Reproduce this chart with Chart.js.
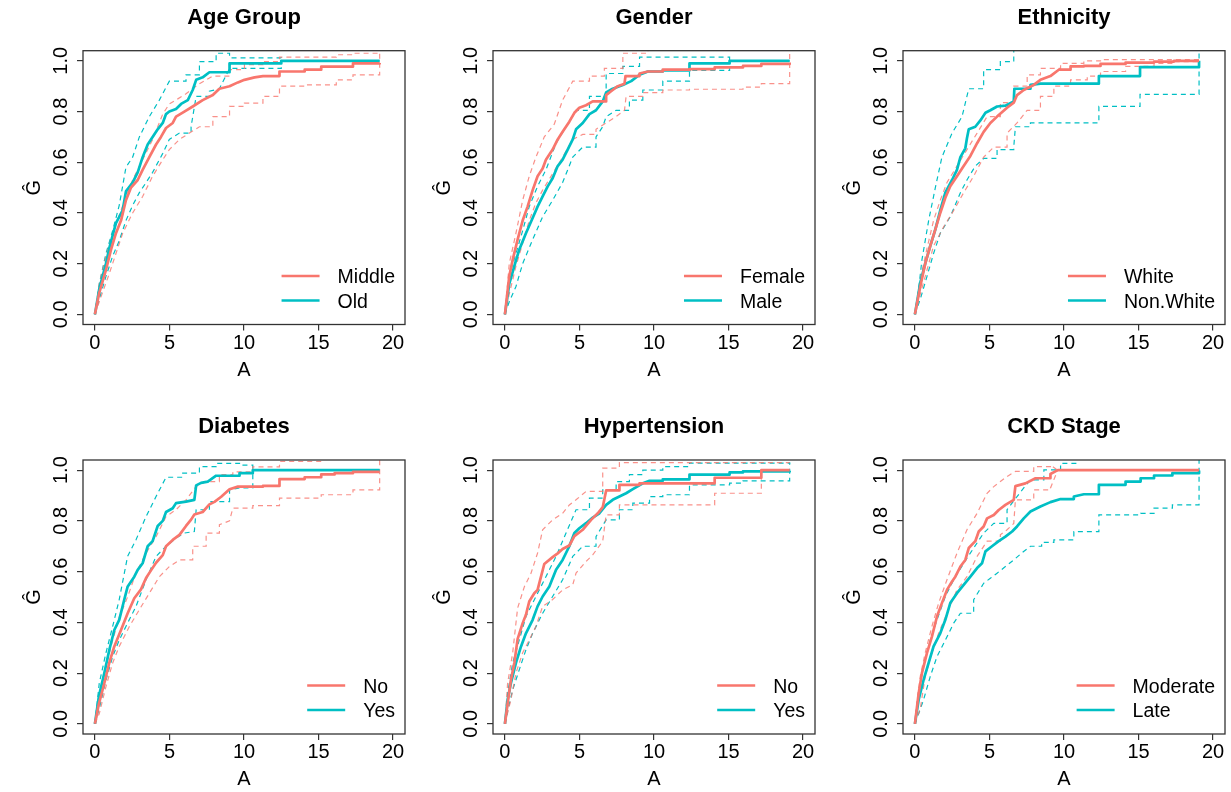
<!DOCTYPE html>
<html><head><meta charset="utf-8">
<script src="https://cdn.jsdelivr.net/npm/chart.js@4.4.0/dist/chart.umd.min.js"></script>
<style>
html,body{margin:0;padding:0;background:#fff;}
#wrap{position:relative;width:1231px;height:792px;overflow:hidden;background:#fff;}
canvas{position:absolute;}
</style></head><body><div id="wrap"></div>
<script>
const RED = '#F8766D', CYAN = '#00BFC4';
const RED_DASH = 'rgba(248,118,109,0.8)', CYAN_DASH = '#00BFC4';
const FONT = '"Liberation Sans", Arial, Helvetica, sans-serif';

const xTicks = [0, 5, 10, 15, 20];
const xTickLabels = ['0', '5', '10', '15', '20'];
const yTicks = [0, 0.2, 0.4, 0.6, 0.8, 1.0];
const yTickLabels = ['0.0', '0.2', '0.4', '0.6', '0.8', '1.0'];
const panelTitles = ['Age Group', 'Gender', 'Ethnicity', 'Diabetes', 'Hypertension', 'CKD Stage'];
const groupLabels = [['Middle', 'Old'], ['Female', 'Male'], ['White', 'Non.White'], ['No', 'Yes'], ['No', 'Yes'], ['Moderate', 'Late']];
const xTitle = 'A', yTitle = 'Ĝ';

// ---- Age Group ----
const ageMiddle = [[0,0],[0.29,0.085],[0.74,0.175],[1.08,0.255],[1.41,0.32],[1.75,0.37],[2.08,0.45],[2.42,0.50],[2.87,0.53],[3.2,0.57],[3.65,0.62],[4.1,0.67],[4.43,0.70],[4.77,0.735],[5.22,0.755],[5.44,0.78],[6.0,0.80],[6.56,0.82],[7.23,0.845],[7.91,0.865],[8.35,0.89],[9.03,0.90],[9.59,0.915],[10.03,0.925],[10.71,0.935],[11.27,0.94],[12.38,0.958],[14.07,0.965],[15.18,0.977],[17.31,0.99],[19.1,0.991]];
const ageOld = [[0,0],[0.29,0.10],[0.74,0.20],[0.96,0.26],[1.41,0.36],[1.86,0.41],[2.08,0.485],[2.53,0.52],[2.87,0.56],[3.2,0.62],[3.54,0.67],[3.87,0.70],[4.21,0.73],[4.55,0.755],[4.77,0.79],[4.99,0.80],[5.44,0.81],[5.78,0.83],[6.23,0.845],[6.56,0.885],[6.79,0.925],[7.23,0.935],[7.68,0.955],[9.03,0.99],[12.5,1.0],[19.1,1.0]];
const ageMiddleUpper = [[0,0],[0.29,0.12],[0.74,0.23],[1.19,0.32],[1.63,0.39],[2.08,0.465],[2.53,0.53],[3.2,0.61],[3.87,0.69],[4.55,0.79],[4.99,0.83],[5.56,0.85],[6.11,0.87],[6.56,0.89],[7.01,0.91],[7.46,0.925],[7.91,0.94],[9.03,0.965],[10.03,0.985],[11.27,0.997],[12.38,1.015],[16.19,1.024],[17.31,1.03],[19.1,1.03]];
const ageMiddleLower = [[0,0],[0.29,0.05],[0.96,0.16],[1.41,0.24],[1.86,0.32],[2.53,0.40],[3.2,0.465],[3.87,0.545],[4.55,0.61],[4.99,0.65],[5.67,0.69],[6.34,0.715],[7.01,0.74],[7.91,0.78],[9.03,0.82],[10.03,0.833],[11.27,0.86],[12.38,0.90],[14.07,0.905],[16.19,0.925],[17.31,0.945],[19.1,1.03]];
const ageOldUpper = [[0,0],[0.29,0.12],[0.74,0.24],[1.19,0.33],[1.63,0.43],[2.08,0.58],[2.53,0.62],[2.98,0.70],[3.65,0.78],[4.32,0.845],[4.99,0.92],[6.11,0.945],[7.01,0.997],[8.13,1.03],[9.03,1.012],[12.5,1.0],[19.1,1.0]];
const ageOldLower = [[0,0],[0.29,0.06],[0.74,0.15],[1.19,0.23],[1.63,0.29],[2.08,0.37],[2.53,0.43],[2.98,0.48],[3.43,0.52],[3.87,0.56],[4.55,0.635],[4.99,0.69],[5.67,0.715],[6.45,0.74],[6.79,0.86],[7.68,0.88],[8.35,0.89],[9.03,0.97],[12.5,1.0],[19.1,1.0]];

// ---- Gender ----
const genderFemale = [[0,0],[0.29,0.15],[0.52,0.215],[0.85,0.295],[1.19,0.37],[1.52,0.425],[1.86,0.49],[2.19,0.545],[2.53,0.575],[2.75,0.61],[3.2,0.65],[3.54,0.69],[3.87,0.72],[4.32,0.76],[4.66,0.795],[4.99,0.815],[5.44,0.825],[5.89,0.84],[6.79,0.865],[7.12,0.88],[7.57,0.90],[8.02,0.91],[8.09,0.94],[9.03,0.95],[9.59,0.958],[10.59,0.965],[12.38,0.967],[14.07,0.974],[15.97,0.98],[17.2,0.988],[19.1,0.993]];
const genderMale = [[0,0],[0.29,0.12],[0.63,0.19],[0.96,0.255],[1.41,0.32],[1.86,0.38],[2.19,0.425],[2.53,0.465],[2.87,0.505],[3.2,0.537],[3.54,0.585],[3.87,0.61],[4.21,0.65],[4.55,0.69],[4.77,0.73],[5.22,0.755],[5.67,0.79],[6.11,0.805],[6.56,0.84],[6.79,0.875],[7.23,0.89],[7.91,0.905],[8.47,0.92],[9.03,0.945],[9.59,0.958],[10.59,0.962],[12.38,0.99],[15.07,1.0],[19.1,1.0]];
const genderFemaleUpper = [[0,0],[0.29,0.2],[0.74,0.32],[1.19,0.45],[1.63,0.545],[2.08,0.62],[2.64,0.70],[3.31,0.75],[3.87,0.845],[4.55,0.92],[5.67,0.94],[6.67,0.97],[7.91,1.03],[9.6,1.045],[19.1,1.045]];
const genderFemaleLower = [[0,0],[0.29,0.08],[0.74,0.19],[1.19,0.28],[1.63,0.37],[2.08,0.44],[2.53,0.49],[3.2,0.555],[3.87,0.62],[4.55,0.69],[5.22,0.71],[6.11,0.73],[6.79,0.755],[7.46,0.78],[8.02,0.805],[8.13,0.86],[9.25,0.875],[10.59,0.885],[12.38,0.888],[15.97,0.896],[17.2,0.91],[19.1,1.04]];
const genderMaleUpper = [[0,0],[0.29,0.15],[0.74,0.24],[1.19,0.33],[1.63,0.425],[2.19,0.505],[2.75,0.57],[3.43,0.675],[4.1,0.74],[4.77,0.805],[5.67,0.86],[6.79,0.95],[7.91,0.978],[9.03,1.015],[15.07,1.0],[19.1,1.0]];
const genderMaleLower = [[0,0],[0.29,0.05],[0.74,0.11],[1.19,0.20],[1.86,0.295],[2.53,0.385],[3.2,0.45],[3.87,0.52],[4.55,0.62],[5.22,0.66],[6.11,0.70],[6.56,0.74],[6.79,0.78],[7.46,0.805],[8.35,0.845],[9.25,0.885],[10.59,0.92],[12.38,0.962],[15.07,1.0],[19.1,1.0]];

// ---- Ethnicity ----
const ethWhite = [[0,0],[0.36,0.11],[0.69,0.2],[1.03,0.27],[1.37,0.335],[1.70,0.40],[2.04,0.46],[2.37,0.505],[2.82,0.545],[3.27,0.585],[3.72,0.625],[4.17,0.675],[4.61,0.72],[5.06,0.755],[5.51,0.78],[6.18,0.815],[6.63,0.835],[6.85,0.865],[7.30,0.885],[7.97,0.905],[8.42,0.925],[9.09,0.94],[9.65,0.965],[10.44,0.978],[11.33,0.98],[12.45,0.988],[14.13,0.993],[16.04,0.997],[17.38,1.0],[19.06,1.0]];
const ethNonWhite = [[0,0],[0.36,0.125],[0.69,0.2],[1.03,0.27],[1.37,0.335],[1.70,0.41],[2.04,0.48],[2.49,0.53],[2.82,0.57],[3.05,0.62],[3.38,0.655],[3.49,0.695],[3.61,0.73],[4.05,0.74],[4.39,0.765],[4.73,0.795],[5.06,0.805],[5.51,0.82],[6.07,0.823],[6.63,0.84],[6.67,0.89],[7.75,0.905],[8.42,0.91],[12.34,0.94],[15.10,0.975],[19.06,1.0]];
const ethWhiteUpper = [[0,0],[0.36,0.14],[0.81,0.26],[1.25,0.37],[1.70,0.45],[2.15,0.52],[2.82,0.585],[3.49,0.65],[4.17,0.715],[4.84,0.78],[5.73,0.835],[6.63,0.90],[7.53,0.945],[8.42,0.97],[9.77,0.99],[11.33,1.0],[12.45,1.005],[19.06,1.005]];
const ethWhiteLower = [[0,0],[0.36,0.08],[0.81,0.175],[1.25,0.27],[1.93,0.345],[2.60,0.41],[3.27,0.48],[3.94,0.545],[4.61,0.62],[5.29,0.66],[6.18,0.715],[6.85,0.755],[7.53,0.805],[8.42,0.86],[9.32,0.90],[10.44,0.925],[11.56,0.94],[12.45,0.958],[14.13,0.978],[16.04,0.99],[17.38,0.997],[19.06,0.997]];
const ethNonWhiteUpper = [[0,0],[0.25,0.1],[0.47,0.215],[0.92,0.37],[1.37,0.50],[1.81,0.62],[2.49,0.715],[3.16,0.78],[3.61,0.89],[4.61,0.965],[5.73,0.997],[6.63,1.06],[19.06,1.06]];
const ethNonWhiteLower = [[0,0],[0.36,0.06],[0.81,0.15],[1.25,0.24],[1.70,0.32],[2.37,0.385],[3.05,0.48],[3.49,0.53],[4.05,0.585],[4.61,0.615],[5.51,0.65],[6.63,0.66],[6.74,0.74],[7.75,0.755],[12.34,0.82],[15.10,0.868],[19.06,1.08]];

// ---- Diabetes ----
const diabNo = [[0,0],[0.27,0.08],[0.63,0.16],[0.96,0.24],[1.30,0.305],[1.75,0.37],[2.19,0.435],[2.64,0.495],[3.09,0.53],[3.43,0.575],[3.76,0.605],[4.10,0.635],[4.55,0.665],[4.77,0.70],[5.22,0.725],[5.67,0.745],[6.11,0.78],[6.45,0.805],[6.67,0.825],[7.23,0.835],[7.68,0.865],[8.02,0.875],[8.47,0.895],[9.03,0.925],[9.59,0.935],[11.27,0.938],[12.38,0.965],[14.07,0.972],[15.18,0.983],[16.08,0.988],[17.31,0.993],[19.1,0.993]];
const diabYes = [[0,0],[0.27,0.11],[0.63,0.2],[0.96,0.29],[1.30,0.37],[1.63,0.41],[1.97,0.49],[2.19,0.54],[2.64,0.58],[2.87,0.607],[3.2,0.633],[3.54,0.70],[3.87,0.72],[4.21,0.78],[4.55,0.80],[4.77,0.835],[5.22,0.85],[5.44,0.87],[6.11,0.876],[6.67,0.883],[6.79,0.94],[7.12,0.95],[7.57,0.955],[8.13,0.978],[9.7,0.988],[10.59,1.0],[19.1,1.0]];
const diabNoUpper = [[0,0],[0.29,0.12],[0.74,0.226],[1.19,0.33],[1.63,0.42],[2.19,0.50],[2.75,0.594],[3.43,0.673],[4.10,0.738],[4.77,0.817],[5.44,0.844],[6.11,0.883],[6.79,0.936],[7.46,0.955],[8.35,0.982],[9.25,0.993],[10.59,1.013],[12.38,1.034],[15.18,1.045],[19.1,1.045]];
const diabNoLower = [[0,0],[0.29,0.04],[0.74,0.147],[1.19,0.24],[1.63,0.305],[2.31,0.384],[2.98,0.45],[3.65,0.515],[4.32,0.58],[4.99,0.62],[5.67,0.646],[6.56,0.70],[7.46,0.752],[8.35,0.785],[9.03,0.80],[9.25,0.85],[10.59,0.86],[12.38,0.89],[15.18,0.903],[17.31,0.922],[19.1,1.045]];
const diabYesUpper = [[0,0],[0.29,0.16],[0.74,0.28],[1.19,0.384],[1.63,0.49],[2.19,0.66],[2.75,0.725],[3.43,0.817],[4.10,0.896],[4.77,0.972],[5.89,0.988],[7.01,1.014],[8.13,1.027],[9.7,1.02],[10.59,1.0],[19.1,1.0]];
const diabYesLower = [[0,0],[0.29,0.06],[0.74,0.173],[1.19,0.265],[1.63,0.33],[2.08,0.384],[2.75,0.462],[3.43,0.568],[4.10,0.66],[4.77,0.70],[5.44,0.732],[6.0,0.752],[6.67,0.758],[6.79,0.844],[7.68,0.876],[9.03,0.922],[9.7,0.93],[10.59,1.0],[19.1,1.0]];

// ---- Hypertension ----
const hypNo = [[0,0],[0.18,0.08],[0.40,0.173],[0.63,0.24],[0.85,0.334],[1.19,0.397],[1.41,0.43],[1.63,0.482],[1.97,0.515],[2.19,0.528],[2.42,0.58],[2.64,0.63],[3.2,0.657],[3.54,0.672],[3.87,0.689],[4.32,0.703],[4.66,0.74],[5.22,0.765],[5.44,0.78],[5.78,0.804],[6.23,0.83],[6.56,0.854],[6.79,0.92],[7.68,0.942],[9.03,0.948],[14.07,0.97],[17.2,1.0],[19.1,1.0]];
const hypYes = [[0,0],[0.18,0.095],[0.40,0.16],[0.74,0.24],[1.08,0.305],[1.41,0.357],[1.86,0.41],[2.19,0.463],[2.53,0.502],[2.98,0.541],[3.43,0.607],[3.87,0.646],[4.32,0.70],[4.66,0.752],[4.99,0.771],[5.44,0.791],[5.89,0.813],[6.34,0.83],[6.79,0.863],[7.23,0.883],[7.68,0.896],[8.13,0.909],[8.58,0.925],[9.25,0.948],[9.70,0.958],[10.59,0.964],[12.38,0.982],[15.07,0.991],[15.97,0.995],[19.1,0.998]];
const hypNoUpper = [[0,0],[0.18,0.16],[0.52,0.28],[0.85,0.456],[1.30,0.54],[1.75,0.594],[2.19,0.673],[2.53,0.765],[3.2,0.804],[3.87,0.83],[4.32,0.863],[4.77,0.883],[5.44,0.916],[6.56,1.008],[7.68,1.03],[19.1,1.03]];
const hypNoLower = [[0,0],[0.40,0.095],[0.74,0.2],[1.19,0.28],[1.63,0.33],[2.08,0.384],[2.53,0.463],[3.2,0.49],[3.87,0.528],[4.55,0.548],[4.77,0.594],[5.44,0.64],[5.89,0.666],[6.56,0.72],[6.79,0.824],[7.68,0.863],[14.07,0.909],[17.2,1.0],[19.1,1.0]];
const hypYesUpper = [[0,0],[0.18,0.12],[0.52,0.24],[0.96,0.33],[1.41,0.423],[2.08,0.502],[2.75,0.58],[3.43,0.66],[4.10,0.752],[4.77,0.844],[5.67,0.89],[6.56,0.922],[7.46,0.955],[8.35,0.982],[9.25,1.0],[10.59,1.014],[12.38,1.028],[19.1,1.03]];
const hypYesLower = [[0,0],[0.18,0.05],[0.52,0.134],[0.96,0.213],[1.41,0.292],[1.86,0.357],[2.53,0.436],[3.2,0.502],[3.87,0.568],[4.55,0.66],[5.22,0.70],[6.11,0.738],[6.79,0.804],[7.68,0.844],[8.58,0.87],[9.70,0.896],[10.59,0.903],[12.38,0.942],[15.07,0.949],[15.97,0.958],[19.1,1.03]];

// ---- CKD Stage ----
const ckdModerate = [[0,0],[0.25,0.12],[0.47,0.2],[0.81,0.28],[1.14,0.344],[1.48,0.423],[1.81,0.476],[2.15,0.528],[2.49,0.561],[2.71,0.58],[3.05,0.62],[3.38,0.646],[3.61,0.693],[4.05,0.72],[4.28,0.758],[4.61,0.778],[4.84,0.81],[5.29,0.823],[5.62,0.843],[6.07,0.863],[6.63,0.883],[6.74,0.937],[7.41,0.948],[8.09,0.968],[9.09,0.985],[9.58,1.0],[19.06,1.0]];
const ckdLate = [[0,0],[0.25,0.095],[0.58,0.173],[0.92,0.24],[1.25,0.305],[1.70,0.357],[2.04,0.41],[2.37,0.476],[2.82,0.515],[3.27,0.548],[3.72,0.58],[4.17,0.614],[4.50,0.633],[4.73,0.68],[5.17,0.70],[5.62,0.72],[6.07,0.738],[6.52,0.758],[6.85,0.778],[7.30,0.81],[7.75,0.837],[8.42,0.857],[9.09,0.874],[9.77,0.886],[10.66,0.896],[11.33,0.905],[12.34,0.942],[14.13,0.955],[15.14,0.968],[16.04,0.979],[17.27,0.988],[19.06,0.999]];
const ckdModerateUpper = [[0,0],[0.13,0.08],[0.36,0.187],[0.69,0.28],[1.14,0.384],[1.59,0.476],[2.15,0.568],[2.82,0.673],[3.49,0.765],[4.17,0.83],[4.84,0.909],[5.29,0.935],[5.73,0.955],[6.18,0.975],[6.74,0.995],[7.97,1.014],[9.09,1.02],[9.58,1.0],[19.06,1.0]];
const ckdModerateLower = [[0,0],[0.36,0.06],[0.69,0.187],[1.14,0.28],[1.59,0.357],[2.15,0.436],[2.82,0.528],[3.49,0.58],[4.17,0.66],[4.84,0.72],[5.73,0.745],[6.18,0.765],[6.63,0.79],[6.74,0.883],[7.97,0.922],[9.09,0.929],[9.58,1.0],[19.06,1.0]];
const ckdLateUpper = [[0,0],[0.25,0.13],[0.58,0.226],[1.03,0.33],[1.48,0.41],[2.04,0.502],[2.60,0.568],[3.27,0.633],[3.94,0.693],[4.61,0.752],[5.29,0.79],[6.18,0.844],[6.85,0.896],[7.30,0.93],[7.75,0.962],[8.65,1.001],[9.77,1.027],[10.88,1.045],[19.06,1.045]];
const ckdLateLower = [[0,0],[0.25,0.04],[0.58,0.095],[1.03,0.187],[1.48,0.265],[2.04,0.33],[2.60,0.397],[3.05,0.436],[3.94,0.489],[4.61,0.554],[5.06,0.574],[5.51,0.594],[6.07,0.62],[6.63,0.646],[7.2,0.675],[7.75,0.70],[8.5,0.715],[9.32,0.725],[10.66,0.758],[12.34,0.824],[15.14,0.83],[16.04,0.85],[17.27,0.863],[19.06,1.045]];

const panels = [
  {main: [ageMiddle, ageOld], bands: [[ageMiddleUpper, ageMiddleLower], [ageOldUpper, ageOldLower]]},
  {main: [genderFemale, genderMale], bands: [[genderFemaleUpper, genderFemaleLower], [genderMaleUpper, genderMaleLower]]},
  {main: [ethWhite, ethNonWhite], bands: [[ethWhiteUpper, ethWhiteLower], [ethNonWhiteUpper, ethNonWhiteLower]]},
  {main: [diabNo, diabYes], bands: [[diabNoUpper, diabNoLower], [diabYesUpper, diabYesLower]]},
  {main: [hypNo, hypYes], bands: [[hypNoUpper, hypNoLower], [hypYesUpper, hypYesLower]]},
  {main: [ckdModerate, ckdLate], bands: [[ckdModerateUpper, ckdModerateLower], [ckdLateUpper, ckdLateLower]]}
];

// Dense stretches (many small events) are drawn as a continuous path; long flat
// runs keep their step corner (same read values, no new levels are added).
const STEP_RUN = 0.75;
const toPath = arr => {
  const out = [];
  arr.forEach(([x, y], i) => {
    if (i > 0) {
      const [px, py] = arr[i - 1];
      if (x - px >= STEP_RUN) out.push({x, y: py});
    }
    out.push({x, y});
  });
  return out;
};
const TICK_LEN = 6;

const decorPlugin = {
  id: 'decor',
  afterDraw(chart) {
    const {ctx, chartArea: ca, scales} = chart;
    const idx = chart.options.plugins.decor.index;
    ctx.save();
    ctx.strokeStyle = '#333';
    ctx.lineWidth = 1.3;
    ctx.strokeRect(ca.left, ca.top, ca.right - ca.left, ca.bottom - ca.top);
    ctx.fillStyle = '#000';
    ctx.font = 'bold 22px ' + FONT;
    ctx.textAlign = 'center';
    ctx.textBaseline = 'alphabetic';
    ctx.fillText(panelTitles[idx], (ca.left + ca.right) / 2, ca.top - 27);
    ctx.font = '20px ' + FONT;
    xTicks.forEach((v, i) => {
      ctx.fillText(xTickLabels[i], scales.x.getPixelForValue(v), ca.bottom + 24);
    });
    ctx.fillText(xTitle, (ca.left + ca.right) / 2, ca.bottom + 51);
    yTicks.forEach((v, i) => {
      ctx.save();
      ctx.translate(ca.left - 16, scales.y.getPixelForValue(v));
      ctx.rotate(-Math.PI / 2);
      ctx.fillText(yTickLabels[i], 0, 0);
      ctx.restore();
    });
    ctx.save();
    ctx.translate(ca.left - 43, (ca.top + ca.bottom) / 2);
    ctx.rotate(-Math.PI / 2);
    ctx.fillText(yTitle, 0, 0);
    ctx.restore();
    ctx.font = '19.5px ' + FONT;
    const labels = groupLabels[idx];
    const maxW = Math.max(...labels.map(l => ctx.measureText(l).width));
    const textLeft = ca.right - 10 - maxW;
    const cols = [RED, CYAN];
    const ys = [ca.bottom - 48.5, ca.bottom - 24];
    ctx.textAlign = 'left';
    labels.forEach((l, i) => {
      ctx.strokeStyle = cols[i];
      ctx.lineWidth = 2.6;
      ctx.beginPath();
      ctx.moveTo(textLeft - 56, ys[i]);
      ctx.lineTo(textLeft - 18, ys[i]);
      ctx.stroke();
      ctx.fillStyle = '#000';
      ctx.fillText(l, textLeft, ys[i] + 7);
    });
    ctx.restore();
  }
};

const wrap = document.getElementById('wrap');
panels.forEach((p, idx) => {
  const col = idx % 3, row = Math.floor(idx / 3);
  const cv = document.createElement('canvas');
  const W = col === 2 ? 411 : 410, H = 396;
  cv.width = W; cv.height = H;
  cv.style.left = (col * 410) + 'px';
  cv.style.top = (row * 396) + 'px';
  cv.style.width = W + 'px'; cv.style.height = H + 'px';
  wrap.appendChild(cv);
  const top = row === 0 ? 50.7 : 64;
  const bottom = row === 0 ? 324.5 : 338;
  const mainDs = (d, c) => ({data: toPath(d), borderColor: c, borderWidth: 2.7, pointRadius: 0, fill: false, tension: 0, borderJoinStyle: 'round'});
  const bandDs = (d, c) => ({data: toPath(d), borderColor: c, borderWidth: 1.2, borderDash: [5, 4], pointRadius: 0, fill: false, tension: 0});
  const datasets = [
    mainDs(p.main[0], RED), mainDs(p.main[1], CYAN),
    bandDs(p.bands[0][0], RED_DASH), bandDs(p.bands[0][1], RED_DASH),
    bandDs(p.bands[1][0], CYAN_DASH), bandDs(p.bands[1][1], CYAN_DASH)
  ];
  new Chart(cv, {
    type: 'line',
    data: {datasets},
    plugins: [decorPlugin],
    options: {
      responsive: false, animation: false, devicePixelRatio: 1, events: [],
      layout: {padding: {left: 83 - TICK_LEN, right: W - 405, top: top, bottom: H - bottom - TICK_LEN}},
      plugins: {legend: {display: false}, tooltip: {enabled: false}, title: {display: false}, decor: {index: idx}},
      scales: {
        x: {type: 'linear', min: -0.8, max: 20.8,
            afterBuildTicks: s => { s.ticks = xTicks.map(v => ({value: v})); },
            ticks: {display: false},
            grid: {display: true, drawOnChartArea: false, drawTicks: true, tickLength: TICK_LEN, color: '#333', lineWidth: 1.2},
            border: {display: false}},
        y: {type: 'linear', min: -0.04, max: 1.04,
            afterBuildTicks: s => { s.ticks = yTicks.map(v => ({value: v})); },
            ticks: {display: false},
            grid: {display: true, drawOnChartArea: false, drawTicks: true, tickLength: TICK_LEN, color: '#333', lineWidth: 1.2},
            border: {display: false}}
      }
    }
  });
});
</script>
</body></html>
